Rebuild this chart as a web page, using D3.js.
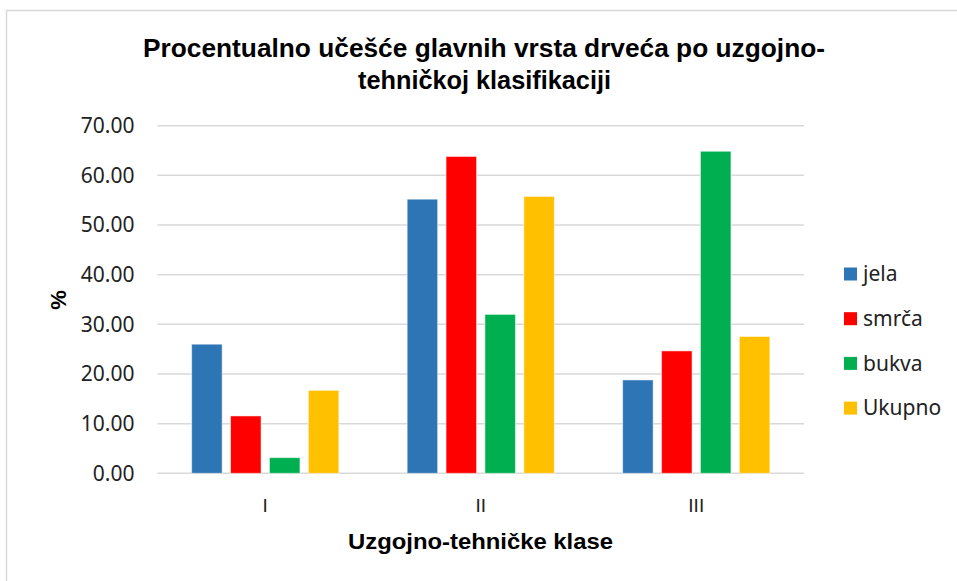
<!DOCTYPE html>
<html>
<head>
<meta charset="utf-8">
<script src="https://cdn.jsdelivr.net/npm/d3@7"></script>
<style>
  body { margin: 0; background: #fff; }
  svg { display: block; }
  .arial { font-family: "Liberation Sans", Arial, sans-serif; }
  .calib { font-family: "Noto Sans", "Open Sans", sans-serif; }
</style>
</head>
<body>
<div id="chart"></div>
<script>
const categories = ["I", "II", "III"];
const seriesNames = ["jela", "smrča", "bukva", "Ukupno"];
const jela = [26.0, 55.2, 18.8];
const smrca = [11.55, 63.8, 24.65];
const bukva = [3.15, 32.0, 64.85];
const ukupno = [16.7, 55.75, 27.55];
const yTicks = [0, 10, 20, 30, 40, 50, 60, 70];
const colors = ["#2E75B6", "#FF0000", "#00B050", "#FFC000"];

const seriesValues = [jela, smrca, bukva, ukupno];

const width = 957, height = 581;
const plot = { left: 157.5, right: 804, top: 125.7, bottom: 473.3 };

const svg = d3.select("#chart").append("svg")
  .attr("width", width)
  .attr("height", height);

// chart area border
svg.append("rect")
  .attr("x", 6.5).attr("y", 10.5)
  .attr("width", 960).attr("height", 580)
  .attr("fill", "none")
  .attr("stroke", "#d9d9d9")
  .attr("stroke-width", 1.5);

// title
const title = svg.append("text")
  .attr("class", "arial")
  .attr("text-anchor", "middle")
  .attr("font-weight", "bold")
  .attr("font-size", 25.6)
  .attr("fill", "#000");
title.append("tspan").attr("x", 484).attr("y", 56.5)
  .attr("textLength", 682).attr("lengthAdjust", "spacingAndGlyphs")
  .text("Procentualno učešće glavnih vrsta drveća po uzgojno-");
title.append("tspan").attr("x", 484.5).attr("y", 89)
  .attr("textLength", 253).attr("lengthAdjust", "spacingAndGlyphs")
  .text("tehničkoj klasifikaciji");

const x0 = d3.scaleBand()
  .domain(categories)
  .range([plot.left, plot.right]);

const x1 = d3.scaleBand()
  .domain(seriesNames)
  .range([0, x0.bandwidth()])
  .paddingInner(0.216)
  .paddingOuter(0.878);

const y = d3.scaleLinear()
  .domain([0, 70])
  .range([plot.bottom, plot.top]);

// gridlines
svg.append("g")
  .selectAll("line")
  .data(yTicks)
  .join("line")
  .attr("x1", plot.left)
  .attr("x2", plot.right)
  .attr("y1", d => y(d))
  .attr("y2", d => y(d))
  .attr("stroke", "#d9d9d9")
  .attr("stroke-width", 1.5);

// y axis labels
const yAxis = svg.append("g")
  .attr("transform", "translate(" + (plot.left - 23) + ",0)")
  .call(d3.axisLeft(y).tickValues(yTicks).tickFormat(d3.format(".2f")).tickSize(0).tickPadding(0));
yAxis.select(".domain").remove();
yAxis.attr("font-family", null).attr("font-size", null);
yAxis.selectAll("text")
  .attr("class", "calib")
  .attr("font-size", 21)
  .attr("fill", "#222");

// x axis labels
const xAxis = svg.append("g")
  .attr("transform", "translate(0," + plot.bottom + ")")
  .call(d3.axisBottom(x0).tickSize(0).tickPadding(25));
xAxis.select(".domain").remove();
xAxis.attr("font-family", null).attr("font-size", null);
xAxis.selectAll("text")
  .attr("class", "arial")
  .attr("font-size", 19)
  .attr("fill", "#222");

// bars
const groups = svg.append("g")
  .selectAll("g")
  .data(categories)
  .join("g")
  .attr("transform", d => "translate(" + x0(d) + ",0)");

groups.selectAll("rect")
  .data((c, i) => seriesNames.map((s, j) => ({ s: s, v: seriesValues[j][i], color: colors[j] })))
  .join("rect")
  .attr("x", d => x1(d.s))
  .attr("y", d => y(d.v))
  .attr("width", x1.bandwidth())
  .attr("height", d => y(0) - y(d.v))
  .attr("fill", d => d.color)
  .attr("stroke", "#fff")
  .attr("stroke-opacity", 0.5)
  .attr("stroke-width", 1);

// axis titles
svg.append("text")
  .attr("class", "arial")
  .attr("x", 480.5)
  .attr("y", 549)
  .attr("text-anchor", "middle")
  .attr("font-weight", "bold")
  .attr("font-size", 22.6)
  .attr("textLength", 265).attr("lengthAdjust", "spacingAndGlyphs")
  .text("Uzgojno-tehničke klase");

svg.append("text")
  .attr("class", "arial")
  .attr("transform", "translate(66,300) rotate(-90)")
  .attr("text-anchor", "middle")
  .attr("font-weight", "bold")
  .attr("font-size", 22)
  .text("%");

// legend
const legend = svg.append("g")
  .selectAll("g")
  .data(seriesNames)
  .join("g")
  .attr("transform", (d, i) => "translate(844," + (274 + i * 44.7) + ")");

legend.append("rect")
  .attr("x", 0).attr("y", -6.5)
  .attr("width", 13).attr("height", 13)
  .attr("fill", (d, i) => colors[i]);

legend.append("text")
  .attr("class", "calib")
  .attr("x", 19)
  .attr("y", 0)
  .attr("dy", "0.35em")
  .attr("font-size", 21)
  .attr("fill", "#222")
  .text(d => d);
</script>
</body>
</html>
